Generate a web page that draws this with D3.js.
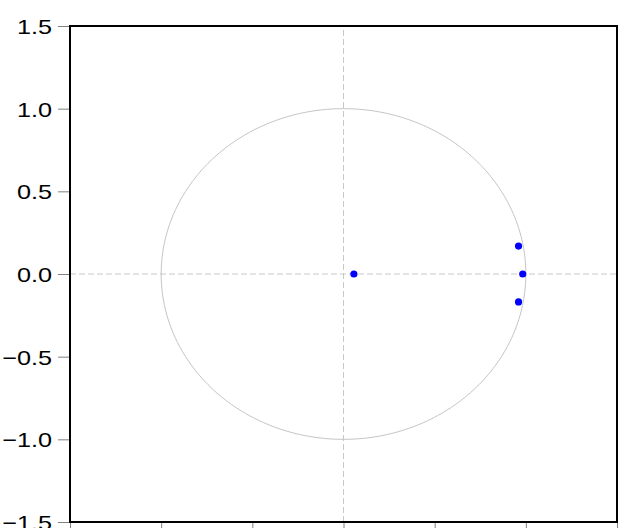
<!DOCTYPE html>
<html>
<head>
<meta charset="utf-8">
<script src="https://cdn.jsdelivr.net/npm/d3@7"></script>
<style>
  body { margin: 0; background: #fff; }
  svg { display: block; font-family: Arial, "Liberation Sans", sans-serif; }
</style>
</head>
<body>
<svg class="graph" width="635" height="528"></svg>
<script>
// inverse roots (real / imaginary parts)
const rootsRe = [0.057, 0.960, 0.983, 0.960];
const rootsIm = [0.0, 0.169, 0.0, -0.169];
const tickVals = [-1.5, -1.0, -0.5, 0.0, 0.5, 1.0, 1.5];

// graph dimensions
const w = 635, h = 528;
const m = { top: 26, right: 18, bottom: 6, left: 70 };

const svg = d3.select('svg.graph');

const x = d3.scaleLinear().domain([-1.5, 1.5]).range([m.left, w - m.right]);
const y = d3.scaleLinear().domain([-1.5, 1.5]).range([h - m.bottom, m.top]);

// zero reference lines
svg.append('line')
    .attr('x1', x(-1.5)).attr('x2', x(1.5))
    .attr('y1', y(0)).attr('y2', y(0))
    .attr('stroke', '#c8c8c8').attr('stroke-dasharray', '6,3');
svg.append('line')
    .attr('x1', x(0)).attr('x2', x(0))
    .attr('y1', y(-1.5)).attr('y2', y(1.5))
    .attr('stroke', '#c8c8c8').attr('stroke-dasharray', '6,3');

// unit circle
const circ = d3.range(0, 361).map(a => [Math.cos(a * Math.PI / 180), Math.sin(a * Math.PI / 180)]);
svg.append('path')
    .datum(circ)
    .attr('fill', 'none')
    .attr('stroke', '#c4c4c4')
    .attr('d', d3.line().x(d => x(d[0])).y(d => y(d[1])));

// axes
const yAxis = svg.append('g')
    .attr('transform', `translate(${m.left},0)`)
    .call(d3.axisLeft(y).tickValues(tickVals).tickFormat(d3.format('.1f')).tickSize(12).tickPadding(6));
const xAxis = svg.append('g')
    .attr('transform', `translate(0,${h - m.bottom})`)
    .call(d3.axisBottom(x).tickValues(tickVals).tickFormat(d3.format('.1f')).tickSize(10).tickPadding(5));

[yAxis, xAxis].forEach(g => {
    g.select('.domain').remove();
    g.selectAll('.tick line').attr('stroke', '#808080');
    g.selectAll('.tick text').attr('fill', '#000').attr('font-size', 21)
        .attr('font-family', 'Arial, "Liberation Sans", sans-serif')
        // labels in the original are a little wider than plain Arial
        .each(function () {
            const len = this.getComputedTextLength();
            d3.select(this).attr('textLength', len * 1.2).attr('lengthAdjust', 'spacingAndGlyphs');
        });
});
yAxis.selectAll('.tick text').attr('dy', '0.36em');

// frame
svg.append('rect')
    .attr('x', x(-1.5)).attr('y', y(1.5))
    .attr('width', x(1.5) - x(-1.5))
    .attr('height', y(-1.5) - y(1.5))
    .attr('fill', 'none')
    .attr('stroke', '#000')
    .attr('stroke-width', 2);

// roots
svg.selectAll('circle.root')
    .data(rootsRe.map((r, i) => ({ re: r, im: rootsIm[i] })))
    .enter().append('circle')
    .attr('class', 'root')
    .attr('cx', d => x(d.re))
    .attr('cy', d => y(d.im))
    .attr('r', 3.6)
    .attr('fill', '#0000ff');
</script>
</body>
</html>
